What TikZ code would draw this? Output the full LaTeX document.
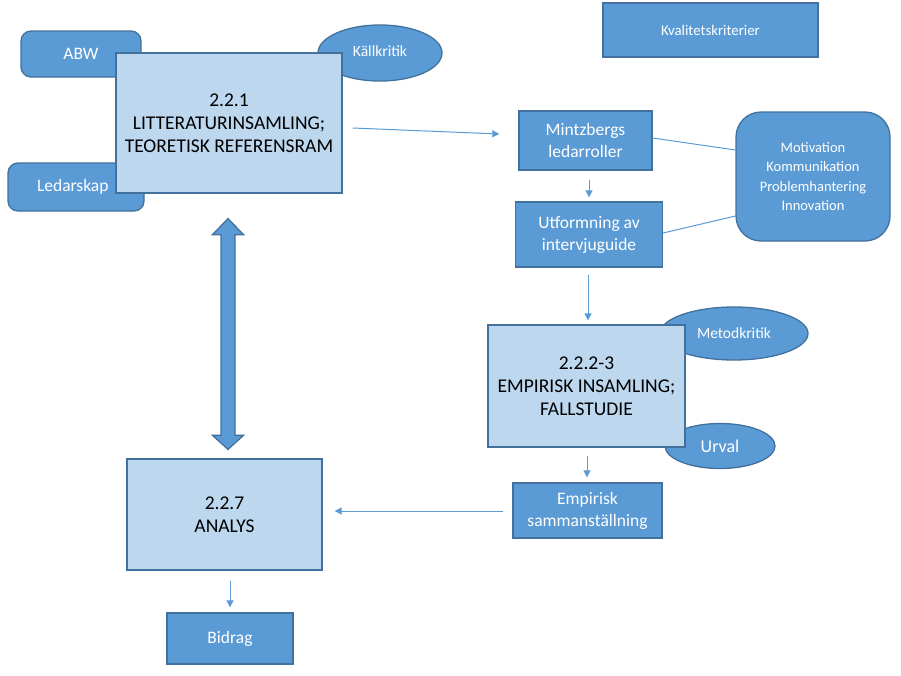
\documentclass[tikz,border=0pt]{standalone}
\usepackage{fontspec}
\setmainfont{Carlito}
\usetikzlibrary{arrows.meta,calc,shapes.geometric}
\definecolor{darkc}{HTML}{5B9BD5}
\definecolor{bordc}{HTML}{41719C}
\definecolor{lightc}{HTML}{BDD7EE}
\tikzset{
  box/.style={draw=bordc, line width=1.3pt, inner sep=0pt, align=center},
  darkbox/.style={box, fill=darkc, text=white},
  lightbox/.style={box, fill=lightc, text=black},
  oval/.style={ellipse, draw=bordc, fill=darkc, text=white, line width=1.3pt, inner sep=0pt, align=center},
  arr/.style={draw=darkc, line width=1pt, -{Triangle[length=7pt,width=7pt]}},
  link/.style={draw=darkc, line width=1pt},
  bigtxt/.style={font=\fontsize{19.5}{23}\selectfont},
  midtxt/.style={font=\fontsize{17.5}{22}\selectfont},
  smalltxt/.style={font=\fontsize{14.5}{19.5}\selectfont},
}
\begin{document}
\begin{tikzpicture}[x=1pt,y=-1pt]
\useasboundingbox[fill=white] (0,0) rectangle (901,675);
% background shapes
\node[darkbox, rounded corners=10pt, minimum width=120pt, minimum height=46pt, midtxt] (abw) at (81,54) {ABW};
\node[darkbox, rounded corners=10pt, minimum width=136pt, minimum height=48pt, midtxt, text width=136pt, align=left] (led) at (76,187) {\hspace*{29pt}Ledarskap};
\node[oval, minimum width=124pt, minimum height=56pt, font=\fontsize{15.5}{18}\selectfont] (kall) at (380,53) {\raisebox{4pt}{Källkritik}};
\node[lightbox, minimum width=226pt, minimum height=140pt, bigtxt] (lit) at (229,123) {2.2.1\\LITTERATURINSAMLING;\\TEORETISK REFERENSRAM};
\node[darkbox, minimum width=215pt, minimum height=54pt, font=\fontsize{14.8}{18}\selectfont] (kval) at (710.5,30) {Kvalitetskriterier};
\node[darkbox, minimum width=133pt, minimum height=59pt, midtxt] (mintz) at (585.5,140.5) {Mintzbergs\\ledarroller};
\node[darkbox, minimum width=147pt, minimum height=65pt, midtxt] (utf) at (589,234.5) {Utformning av\\intervjuguide};
\node[darkbox, rounded corners=25pt, minimum width=154pt, minimum height=129pt, smalltxt] (motiv) at (813,176.5) {Motivation\\Kommunikation\\Problemhantering\\Innovation};
\node[oval, minimum width=148pt, minimum height=53pt, font=\fontsize{15.5}{18}\selectfont] (metod) at (734,333.5) {Metodkritik};
\node[oval, minimum width=110pt, minimum height=45pt, font=\fontsize{18}{22}\selectfont] (urval) at (720,446) {\raisebox{-3pt}{Urval}};
\node[lightbox, minimum width=197pt, minimum height=122pt, bigtxt] (emp) at (586.5,386) {2.2.2-3\\EMPIRISK INSAMLING;\\FALLSTUDIE};
\node[darkbox, minimum width=149pt, minimum height=55pt, midtxt] (samm) at (587.5,510.5) {Empirisk\\sammanställning};
\node[lightbox, minimum width=195pt, minimum height=111pt, bigtxt] (anal) at (224.5,514.5) {2.2.7\\ANALYS};
\node[darkbox, minimum width=126pt, minimum height=51pt, midtxt] (bid) at (230,638.5) {Bidrag};
% connectors
\draw[arr] ($(lit.east)+(10,5)$) -- ($(mintz.west)+(-19,-6.5)$);
\draw[arr] ($(mintz.south)+(3.5,9)$) -- ($(utf.north)+(0,-4)$);
\draw[arr] ($(utf.south)+(-1,7)$) -- ($(emp.north)+(1.5,-4)$);
\draw[arr] ($(emp.south)+(0.5,8)$) -- ($(samm.north)+(-0.5,-5)$);
\draw[arr] ($(samm.west)+(-9,0.5)$) -- ($(anal.east)+(12,-3.5)$);
\draw[arr] ($(anal.south)+(5.5,10)$) -- ($(bid.north)+(0,-5)$);
\draw[link] ($(mintz.east)+(0,-2.5)$) -- ($(motiv.west)+(0,-26.5)$);
\draw[link] ($(utf.east)+(0,-1.5)$) -- ($(motiv.west)+(0,39.5)$);
% double block arrow
\coordinate (dt) at ($(lit.south)+(-1,25)$);
\coordinate (db) at ($(anal.north)+(3.5,-9)$);
\draw[draw=bordc, fill=darkc, line width=1.3pt, line join=miter]
  (dt) -- ++(15.5,16) -- ++(-8.5,0) -- ($(db)+(7,-14)$) -- ++(8.5,0) -- (db)
  -- ++(-15.5,-14) -- ++(8.5,0) -- ($(dt)+(-7,16)$) -- ++(-8.5,0) -- cycle;
\end{tikzpicture}
\end{document}
